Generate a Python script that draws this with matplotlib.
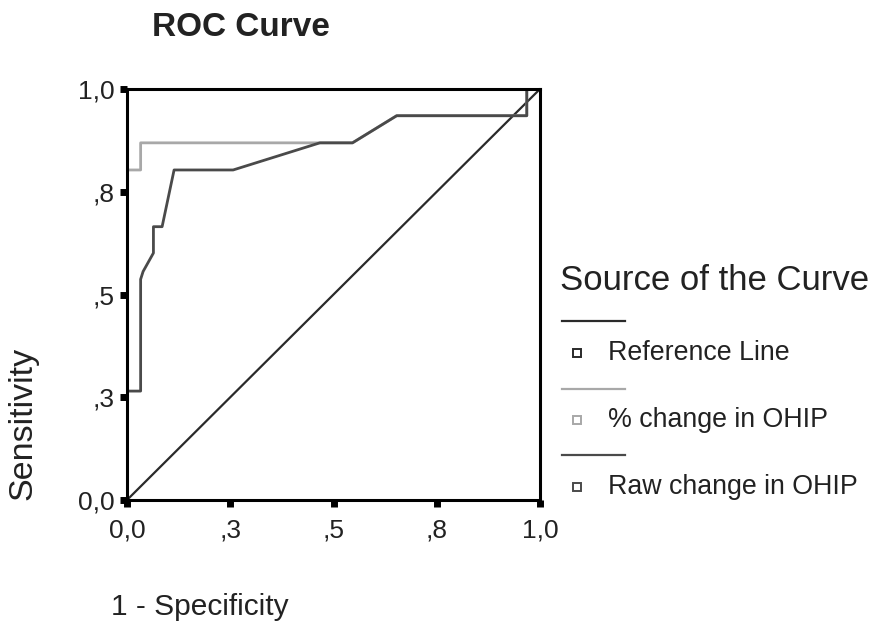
import matplotlib
matplotlib.use("Agg")
import matplotlib.pyplot as plt
from matplotlib.lines import Line2D

plt.rcParams['font.family'] = ['Liberation Sans', 'DejaVu Sans']

# Reference line
ref_fpr = [0.0, 1.0]
ref_tpr = [0.0, 1.0]

# % change in OHIP
pct_fpr = [0.0, 0.0, 0.033, 0.033, 0.467, 0.546, 0.653, 0.968, 0.968, 1.0]
pct_tpr = [0.0, 0.803, 0.803, 0.869, 0.869, 0.869, 0.935, 0.935, 1.0, 1.0]

# Raw change in OHIP
raw_fpr = [0.0, 0.0, 0.033, 0.033, 0.039, 0.064, 0.064, 0.085, 0.114, 0.257,
           0.467, 0.546, 0.653, 0.968, 0.968, 1.0]
raw_tpr = [0.0, 0.265, 0.265, 0.537, 0.556, 0.601, 0.665, 0.665, 0.803, 0.803,
           0.869, 0.869, 0.935, 0.935, 1.0, 1.0]

ticks = [0.0, 0.25, 0.5, 0.75, 1.0]
tick_labels = ["0,0", ",3", ",5", ",8", "1,0"]

legend_title = "Source of the Curve"
series_names = ["Reference Line", "% change in OHIP", "Raw change in OHIP"]
series_colors = ["#2a2a2a", "#a8a8a8", "#4a4a4a"]

W, H = 881, 630
fig = plt.figure(figsize=(W / 100, H / 100), dpi=100)
ax = fig.add_axes([127 / W, 1 - 500 / H, 413 / W, 411 / H])

ax.plot(ref_fpr, ref_tpr, color=series_colors[0], lw=1.6)
ax.plot(pct_fpr, pct_tpr, color=series_colors[1], lw=2.0)
ax.plot(raw_fpr, raw_tpr, color=series_colors[2], lw=2.0)

ax.set_xlim(0, 1)
ax.set_ylim(0, 1)
for s in ax.spines.values():
    s.set_linewidth(2.2)
    s.set_color("black")
ax.set_xticks(ticks)
ax.set_xticklabels(tick_labels)
ax.set_yticks(ticks)
ax.set_yticklabels(tick_labels)
ax.tick_params(direction="out", length=5, width=5, labelsize=19, colors="black")
ax.tick_params(axis="x", pad=8)
ax.tick_params(axis="y", pad=4)
for lbl in ax.get_xticklabels() + ax.get_yticklabels():
    lbl.set_color("#222222")

fig.text(241 / W, 1 - 28 / H, "ROC Curve", ha="center", va="center",
         fontsize=24, fontweight="bold", color="#222222")
fig.text(200 / W, 1 - 607 / H, "1 - Specificity", ha="center", va="center",
         fontsize=21.5, color="#222222")
fig.text(23 / W, 1 - 423 / H, "Sensitivity", ha="center", va="center",
         rotation=90, fontsize=24.5, color="#222222")

# Legend
fig.text(560 / W, 1 - 280 / H, legend_title, ha="left", va="center",
         fontsize=25, color="#222222")
line_y = [321, 389, 455]
text_y = [353, 420, 487]
for name, col, ly, ty in zip(series_names, series_colors, line_y, text_y):
    fig.add_artist(Line2D([562 / W, 625 / W], [1 - ly / H, 1 - ly / H],
                          transform=fig.transFigure, color=col, lw=1.6))
    fig.add_artist(Line2D([577 / W], [1 - ty / H], transform=fig.transFigure,
                          marker="s", markersize=6, markerfacecolor="white",
                          markeredgecolor=col, markeredgewidth=1.4, linestyle="none"))
    fig.text(608 / W, 1 - ty / H, name, ha="left", va="center",
             fontsize=19.3, color="#222222")

fig.savefig("out.png", dpi=100, facecolor="white")
